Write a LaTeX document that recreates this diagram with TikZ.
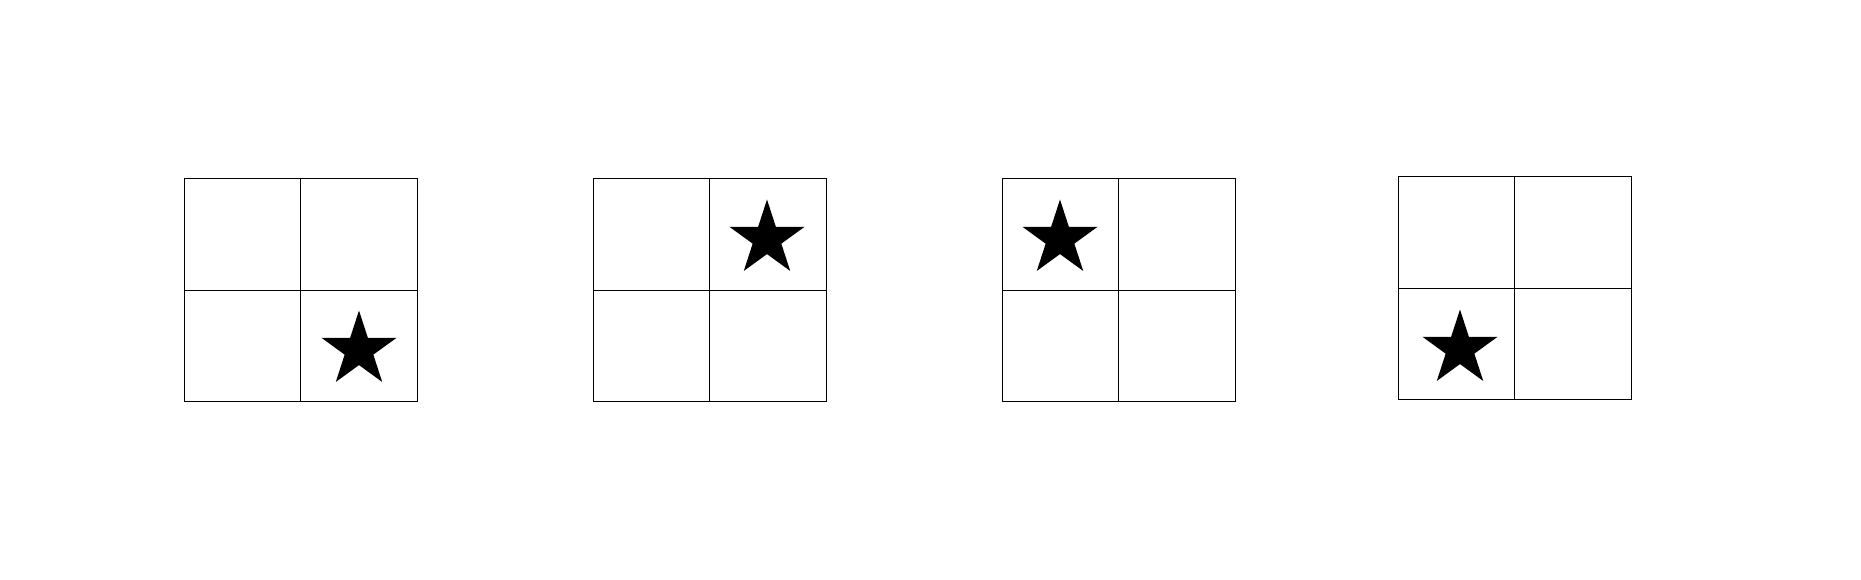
\documentclass[tikz,border=0pt]{standalone}
\usetikzlibrary{shapes.geometric}
\tikzset{
	starmark/.style={star, star points=5, star point ratio=2.618, fill=black, draw=none, inner sep=0pt, minimum size=79pt}
	}
\begin{document}
\begin{tikzpicture}[x=1pt, y=-1pt, line width=1pt]

	\useasboundingbox (0,0) rectangle (1861,580);

	% the four 2x2 grids
	\foreach \gx/\gy in {184/179, 593/179, 1002/179, 1398/177} {
		\draw (\gx,\gy) rectangle ++(233,222);
		\draw (\gx+116.5,\gy) -- ++(0,222);
		\draw (\gx,\gy+111) -- ++(233,0);
	}

	% stars
	\node[starmark] (star1) at (359,350) {};
	\node[starmark] (star2) at (767,239) {};
	\node[starmark] (star3) at (1060,239) {};
	\node[starmark] (star4) at (1460,349) {};

\end{tikzpicture}
\end{document}
